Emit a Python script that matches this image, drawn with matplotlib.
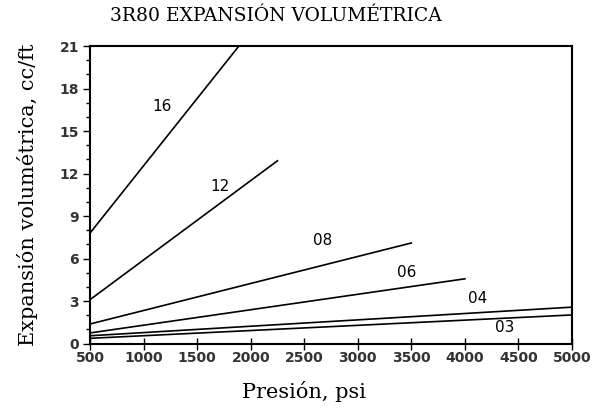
import numpy as np
import matplotlib.pyplot as plt

# Datos (presion psi, expansion cc/ft)
etiquetas = ["16", "12", "08", "06", "04", "03"]
x_inicio = [500, 500, 500, 500, 500, 500]
y_inicio = [7.8, 3.1, 1.38, 0.75, 0.55, 0.37]
x_fin = [1890, 2250, 3500, 4000, 5000, 5000]
y_fin = [21.0, 12.9, 7.1, 4.57, 2.57, 2.02]

# Posicion de las etiquetas de cada curva
etiq_x = [1170, 1715, 2670, 3460, 4120, 4370]
etiq_y = [16.7, 11.1, 7.3, 5.05, 3.2, 1.15]

fig = plt.figure(figsize=(6.01, 4.09), dpi=100)
ax = fig.add_axes([0.1498, 0.160, 0.802, 0.7275])

for i in range(len(etiquetas)):
    ax.plot([x_inicio[i], x_fin[i]], [y_inicio[i], y_fin[i]], color="black", lw=1.2)
    ax.text(etiq_x[i], etiq_y[i], etiquetas[i], ha="center", va="center",
            fontsize=11, family="DejaVu Sans")

ax.set_xlim(500, 5000)
ax.set_ylim(0, 21)
ax.set_xticks(np.arange(500, 5001, 500))
ax.set_yticks(np.arange(0, 22, 3))
ax.set_yticks(np.arange(0, 22, 1), minor=True)
ax.tick_params(axis="x", direction="inout", length=8, width=1, labelsize=10, pad=1)
ax.tick_params(axis="y", direction="out", length=5, width=1, labelsize=10, pad=3)
ax.tick_params(axis="y", which="minor", direction="out", length=3, width=1)
for lab in ax.get_xticklabels() + ax.get_yticklabels():
    lab.set_fontweight("bold")
    lab.set_color("#333333")
for s in ax.spines.values():
    s.set_linewidth(1.5)

fig.text(0.459, 0.962, "3R80 EXPANSIÓN VOLUMÉTRICA", ha="center", va="center",
         fontsize=13.5, family="DejaVu Serif")
fig.text(0.506, 0.042, "Presión, psi", ha="center", va="center",
         fontsize=15, family="DejaVu Serif")
fig.text(0.045, 0.523, "Expansión volumétrica, cc/ft", ha="center", va="center",
         rotation=90, fontsize=15, family="DejaVu Serif")

fig.savefig("out.png", dpi=100)
